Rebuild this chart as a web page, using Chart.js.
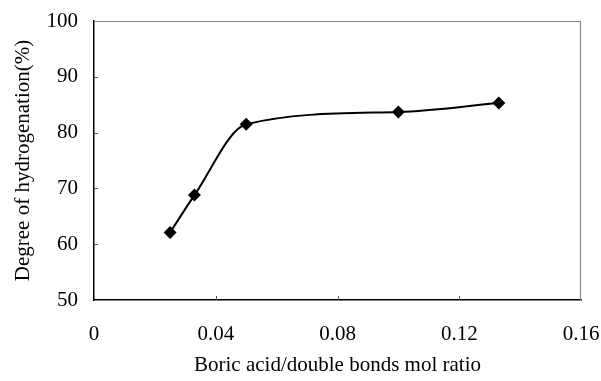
<!DOCTYPE html>
<html lang="en">
<head>
    <meta charset="UTF-8">
    <title>Degree of hydrogenation</title>
    <script src="https://cdn.jsdelivr.net/npm/chart.js"></script>
    <style>
        html, body { margin: 0; padding: 0; background: #fff; }
        #chartBox { width: 601px; height: 381px; }
    </style>
</head>
<body>

    <div id="chartBox">
        <canvas id="myChart"></canvas>
    </div>

    <script>
        // data
        const ratios = [0.025, 0.033, 0.05, 0.1, 0.133];
        const hydrogenation = [62.1, 68.8, 81.5, 83.7, 85.3];
        const xTicks = [0, 0.04, 0.08, 0.12, 0.16];
        const yTicks = [50, 60, 70, 80, 90, 100];

        const serif = "'Liberation Serif', 'Times New Roman', serif";

        // small tick marks inside the plot + grey top/right frame
        const frame = {
            id: 'frame',
            afterDraw(chart) {
                const c = chart.ctx, a = chart.chartArea;
                const xs = chart.scales.x, ys = chart.scales.y;
                c.save();
                c.strokeStyle = '#8a8a8a';
                c.lineWidth = 1.2;
                c.beginPath();
                c.moveTo(a.left, a.top + 0.5);
                c.lineTo(a.right - 0.5, a.top + 0.5);
                c.lineTo(a.right - 0.5, a.bottom);
                c.stroke();
                c.strokeStyle = '#555';
                c.lineWidth = 1;
                c.beginPath();
                yTicks.slice(1, -1).forEach(v => {
                    const py = Math.round(ys.getPixelForValue(v)) + 0.5;
                    c.moveTo(a.left, py);
                    c.lineTo(a.left + 4, py);
                });
                xTicks.slice(1, -1).forEach(v => {
                    const px = Math.round(xs.getPixelForValue(v)) + 0.5;
                    c.moveTo(px, a.bottom);
                    c.lineTo(px, a.bottom - 4);
                });
                c.stroke();
                c.restore();
            }
        };

        const ctx = document.getElementById('myChart').getContext('2d');
        const myChart = new Chart(ctx, {
            type: 'line',
            data: {
                datasets: [{
                    data: ratios.map((r, i) => ({ x: r, y: hydrogenation[i] })),
                    borderColor: '#000',
                    backgroundColor: '#000',
                    borderWidth: 2,
                    cubicInterpolationMode: 'monotone',
                    pointStyle: 'rectRot',
                    pointRadius: 6.5,
                    pointBorderWidth: 0,
                    fill: false
                }]
            },
            options: {
                responsive: true,
                maintainAspectRatio: false,
                animation: false,
                layout: { padding: { top: 21, right: 20, left: 0, bottom: 0 } },
                plugins: {
                    legend: { display: false },
                    tooltip: { enabled: false }
                },
                scales: {
                    x: {
                        type: 'linear',
                        min: 0,
                        max: 0.16,
                        afterBuildTicks: s => { s.ticks = xTicks.map(v => ({ value: v })); },
                        afterFit: s => { s.height = 81; s.paddingLeft = 0; s.paddingRight = 0; },
                        grid: { display: false, drawTicks: false },
                        border: { display: true, color: '#000', width: 1.5 },
                        ticks: {
                            color: '#000',
                            padding: 22,
                            maxRotation: 0,
                            font: { family: serif, size: 21 },
                            callback: v => String(+v.toFixed(2))
                        },
                        title: {
                            display: true,
                            text: 'Boric acid/double bonds mol ratio',
                            color: '#000',
                            font: { family: serif, size: 21 },
                            padding: { top: 8, bottom: 3 }
                        }
                    },
                    y: {
                        min: 50,
                        max: 100,
                        afterBuildTicks: s => { s.ticks = yTicks.map(v => ({ value: v })); },
                        afterFit: s => { s.width = 94; s.paddingTop = 0; s.paddingBottom = 0; },
                        grid: { display: false, drawTicks: false },
                        border: { display: true, color: '#000', width: 1.5 },
                        ticks: {
                            color: '#000',
                            padding: 16,
                            font: { family: serif, size: 21 }
                        },
                        title: {
                            display: true,
                            text: 'Degree of hydrogenation(%)',
                            color: '#000',
                            font: { family: serif, size: 21 },
                            padding: { top: 11, bottom: 0 }
                        }
                    }
                }
            },
            plugins: [frame]
        });
    </script>

</body>
</html>
